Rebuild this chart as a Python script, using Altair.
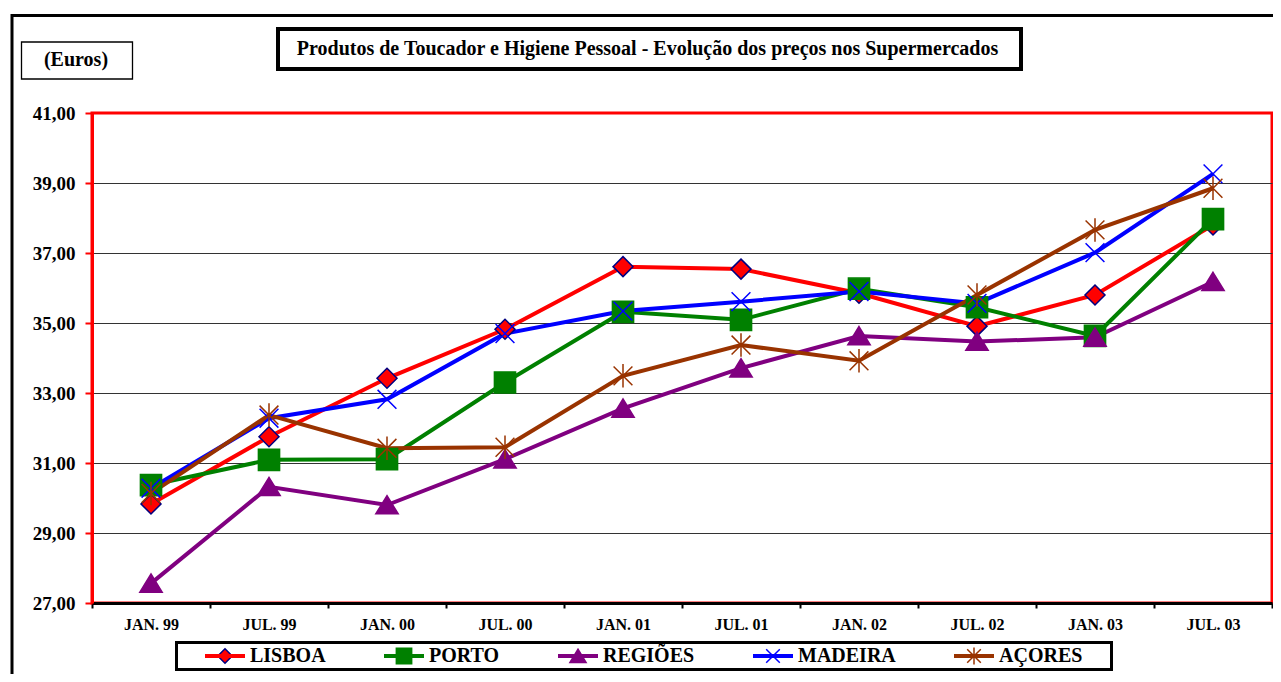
import altair as alt
import pandas as pd

periodos = ["JAN. 99", "JUL. 99", "JAN. 00", "JUL. 00", "JAN. 01",
            "JUL. 01", "JAN. 02", "JUL. 02", "JAN. 03", "JUL. 03"]
series = ["LISBOA", "PORTO", "REGIÕES", "MADEIRA", "AÇORES"]

lisboa = [29.83, 31.75, 33.42, 34.82, 36.61, 36.54, 35.85, 34.91, 35.80, 37.80]
porto = [30.37, 31.09, 31.11, 33.30, 35.32, 35.09, 35.98, 35.45, 34.63, 37.97]
regioes = [27.56, 30.32, 29.80, 31.11, 32.56, 33.71, 34.63, 34.47, 34.59, 36.18]
madeira = [30.28, 32.28, 32.82, 34.70, 35.34, 35.61, 35.90, 35.56, 37.01, 39.26]
acores = [30.13, 32.37, 31.42, 31.45, 33.49, 34.37, 33.92, 35.80, 37.66, 38.85]

cores = ["#FF0000", "#008000", "#800080", "#0000FF", "#993300"]
contornos = ["#000080", "#008000", "#800080", "#0000FF", "#993300"]
formas = [
    "M0,-0.34L0.34,0L0,0.34L-0.34,0Z",
    "M-0.36,-0.36L0.36,-0.36L0.36,0.36L-0.36,0.36Z",
    "M0,-0.32L0.38,0.3L-0.38,0.3Z",
    "M-0.32,-0.32L0.32,0.32M-0.32,0.32L0.32,-0.32",
    "M-0.32,-0.32L0.32,0.32M-0.32,0.32L0.32,-0.32M0,-0.4L0,0.4",
]
valores_y = [27, 29, 31, 33, 35, 37, 39, 41]

titulo = "Produtos de Toucador e Higiene Pessoal - Evolução dos preços nos Supermercados"
unidade = "(Euros)"

rows = []
for i, (nome, vals) in enumerate(zip(series, [lisboa, porto, regioes, madeira, acores])):
    for p, v in zip(periodos, vals):
        rows.append({"periodo": p, "serie": nome, "serie_m": nome, "valor": v, "ordem": i})
df = pd.DataFrame(rows)
um = pd.DataFrame({"k": [0]})

FONT = "Liberation Serif"

x_enc = alt.X("periodo:N", sort=periodos, bandPosition=0.5,
              scale=alt.Scale(type="band", paddingInner=0, paddingOuter=0),
              axis=alt.Axis(title=None, labelAngle=0, labelFont=FONT, labelFontSize=16,
                            labelFontWeight="bold", labelColor="black", labelPadding=8,
                            domainColor="black", domainWidth=3, tickColor="black",
                            tickWidth=2, tickSize=5, tickBand="extent", grid=False))
y_enc = alt.Y("valor:Q",
              scale=alt.Scale(domain=[27, 41], nice=False, zero=False),
              axis=alt.Axis(title=None, values=valores_y,
                            labelExpr="replace(format(datum.value, '.2f'), '.', ',')",
                            labelFont=FONT, labelFontSize=19, labelFontWeight="bold",
                            labelColor="black", labelPadding=10,
                            domainColor="red", domainWidth=3, tickColor="red",
                            tickWidth=2, tickSize=7, grid=True, gridColor="#333333",
                            gridWidth=1,
                            gridOpacity={"condition": {"test": "datum.value == 27 || datum.value == 41",
                                                       "value": 0}, "value": 1}))

leg_common = dict(title=None, orient="none", legendX=111, legendY=533,
                  direction="horizontal", columns=5, columnPadding=56,
                  labelFont=FONT, labelFontSize=20, labelFontWeight="bold",
                  labelOffset=3, padding=0, clipHeight=20, symbolOffset=0)

legA = alt.Legend(symbolType="stroke", symbolSize=1600, symbolStrokeWidth=4,
                  labelColor="black", **leg_common)
legB = alt.Legend(symbolSize=1806, symbolStrokeWidth=1.5, labelColor="transparent",
                  symbolOpacity=1, **leg_common)

linhas = alt.Chart(df).mark_line(strokeWidth=4).encode(
    x=x_enc, y=y_enc,
    color=alt.Color("serie:N", sort=series,
                    scale=alt.Scale(domain=series, range=cores), legend=legA),
)

pontos = alt.Chart(df).mark_point(filled=True, size=3460, strokeWidth=1.5, opacity=1).encode(
    x=x_enc, y=y_enc,
    shape=alt.Shape("serie_m:N", scale=alt.Scale(domain=series, range=formas), legend=legB),
    fill=alt.Fill("serie_m:N", scale=alt.Scale(domain=series, range=cores), legend=legB),
    stroke=alt.Stroke("serie_m:N", scale=alt.Scale(domain=series, range=contornos), legend=legB),
    order=alt.Order("ordem:Q"),
)

moldura = alt.Chart(um).mark_rect(fill="white", fillOpacity=0, stroke="black", strokeWidth=3).encode(
    x=alt.value(-80), x2=alt.value(1250), y=alt.value(-97.5), y2=alt.value(650))

caixa_euros = alt.Chart(um).mark_rect(fill="white", stroke="black", strokeWidth=1.3).encode(
    x=alt.value(-70.5), x2=alt.value(40.5), y=alt.value(-71), y2=alt.value(-34))
texto_euros = alt.Chart(um).mark_text(font=FONT, fontSize=20, fontWeight="bold",
                                      color="black", align="center", baseline="middle").encode(
    x=alt.value(-16), y=alt.value(-53), text=alt.value(unidade))

caixa_titulo = alt.Chart(um).mark_rect(fill="white", stroke="black", strokeWidth=4).encode(
    x=alt.value(186), x2=alt.value(929), y=alt.value(-84), y2=alt.value(-44))
texto_titulo = alt.Chart(um).mark_text(font=FONT, fontSize=20, fontWeight="bold",
                                       color="black", align="center", baseline="middle").encode(
    x=alt.value(555.5), y=alt.value(-64), text=alt.value(titulo))

caixa_legenda = alt.Chart(um).mark_rect(fill="white", stroke="black", strokeWidth=3).encode(
    x=alt.value(84.5), x2=alt.value(1019.5), y=alt.value(529.5), y2=alt.value(556.5))

chart = alt.layer(
    moldura, caixa_euros, texto_euros, caixa_titulo, texto_titulo, caixa_legenda,
    linhas, pontos
).resolve_scale(color="independent").properties(
    width=1180, height=490,
    padding={"left": 84, "top": 105, "right": 1, "bottom": 71},
    autosize=alt.AutoSizeParams(type="none"),
    background="white",
).configure_view(stroke="red", strokeWidth=3)

chart.save("out.html", embed_options={"renderer": "svg", "actions": False})
